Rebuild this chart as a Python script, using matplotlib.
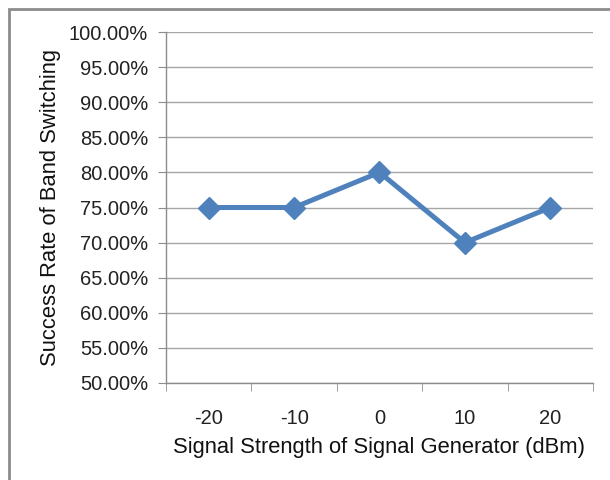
import matplotlib
matplotlib.use("Agg")
import matplotlib.pyplot as plt
from matplotlib.patches import Rectangle
from matplotlib.ticker import FuncFormatter, FixedLocator

categories = ["-20", "-10", "0", "10", "20"]
success_rate = [75.0, 75.0, 80.0, 70.0, 75.0]
y_ticks = [50, 55, 60, 65, 70, 75, 80, 85, 90, 95, 100]

plt.rcParams['font.family'] = ['Liberation Sans', 'DejaVu Sans']

fig = plt.figure(figsize=(6.1, 4.8), dpi=100)
ax = fig.add_axes([166/610, 97/480, (593-166)/610, (383-32)/480])

x = list(range(len(categories)))
ax.plot(x, success_rate, color='#4F81BD', linewidth=3.6, marker='D',
        markersize=11, markerfacecolor='#4F81BD', markeredgecolor='#4F81BD',
        zorder=3)

ax.set_xlim(-0.5, len(categories) - 0.5)
ax.set_ylim(50, 100)
ax.set_yticks(y_ticks)
ax.yaxis.set_major_formatter(FuncFormatter(lambda v, p: f"{v:.2f}%"))
ax.set_xticks(x)
ax.set_xticklabels(categories)
ax.xaxis.set_minor_locator(FixedLocator([i - 0.5 for i in range(len(categories) + 1)]))

ax.grid(axis='y', color='#a6a6a6', linewidth=1.0)
ax.set_axisbelow(True)
for s in ['top', 'right']:
    ax.spines[s].set_visible(False)
for s in ['left', 'bottom']:
    ax.spines[s].set_color('#8c8c8c')
    ax.spines[s].set_linewidth(1.0)

ax.tick_params(axis='y', length=6, color='#8c8c8c', labelsize=14.5, pad=7, labelcolor='#222222')
ax.tick_params(axis='x', which='major', length=0, labelsize=14.5, pad=19, labelcolor='#222222')
ax.tick_params(axis='x', which='minor', length=6, color='#8c8c8c')

ax.set_xlabel("Signal Strength of Signal Generator (dBm)", fontsize=15.8, color='#111111')
ax.set_ylabel("Success Rate of Band Switching", fontsize=15.8, color='#111111')
ax.xaxis.set_label_coords(0.5, (383 - 448) / 351, transform=ax.transAxes)
ax.yaxis.set_label_coords((50 - 166) / 427, 0.5, transform=ax.transAxes)
ax.xaxis.label.set_va('center')
ax.yaxis.label.set_va('center')

fig.patches.append(Rectangle((9/610, -0.05), 1.1, (480-9)/480 + 0.05,
                             transform=fig.transFigure, fill=False,
                             edgecolor='#8c8c8c', linewidth=2))

fig.savefig("out.png", dpi=100)
